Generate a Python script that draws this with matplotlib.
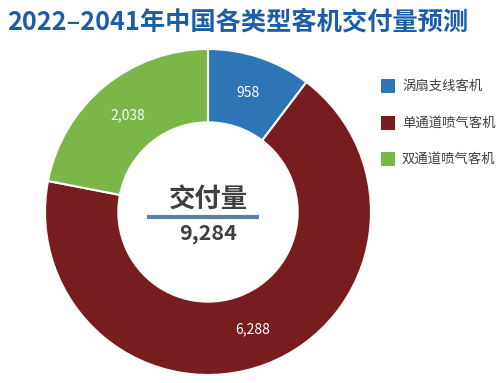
import matplotlib
matplotlib.use("Agg")
import matplotlib.pyplot as plt
from matplotlib.patches import Rectangle

plt.rcParams['font.family'] = ['Noto Sans CJK SC', 'DejaVu Sans']

categories = ["涡扇支线客机", "单通道喷气客机", "双通道喷气客机"]
values = [958, 6288, 2038]
colors = ["#2e75b6", "#771d20", "#7ab648"]
title = "2022–2041年中国各类型客机交付量预测"
center_label = "交付量"
total = sum(values)

W, H = 500, 383
fig = plt.figure(figsize=(W / 100, H / 100), dpi=100)
fig.patch.set_facecolor("white")

cx, cy, r = 208, 212, 163
ax = fig.add_axes([(cx - r) / W, (H - cy - r) / H, 2 * r / W, 2 * r / H])
wedges, texts, autotexts = ax.pie(
    values, colors=colors, startangle=90, counterclock=False, radius=1.0,
    wedgeprops=dict(width=0.45, edgecolor="white", linewidth=1.5),
    autopct=lambda p: f"{p * total / 100:,.0f}", pctdistance=0.77,
    textprops=dict(color="white", fontsize=10))
ax.set_xlim(-1, 1)
ax.set_ylim(-1, 1)
ax.axis("off")

def py(y):  # pixel row -> data y
    return (cy - y) / r

def px(x):
    return (x - cx) / r

ax.text(0, py(200), center_label, ha="center", va="center", fontsize=19,
        fontweight="bold", color="#404040")
ax.plot([px(147), px(259)], [py(217), py(217)], color="#5b80b0", linewidth=3,
        solid_capstyle="butt")
ax.text(0, py(234), f"{total:,}", ha="center", va="center", fontsize=15.5,
        fontweight="bold", color="#404040")

fig.text(7 / W, 1 - 22 / H, title, ha="left", va="center", fontsize=18.2,
         fontweight="bold", color="#1a5ea8")

for i, (lab, c) in enumerate(zip(categories, colors)):
    y = 86 + i * 36.5
    fig.patches.append(Rectangle((381 / W, 1 - (y + 7) / H), 14 / W, 14 / H,
                                 transform=fig.transFigure, facecolor=c,
                                 edgecolor="none"))
    fig.text(402 / W, 1 - y / H, lab, ha="left", va="center", fontsize=9.6,
             color="#404040")

fig.savefig("out.png", dpi=100)
